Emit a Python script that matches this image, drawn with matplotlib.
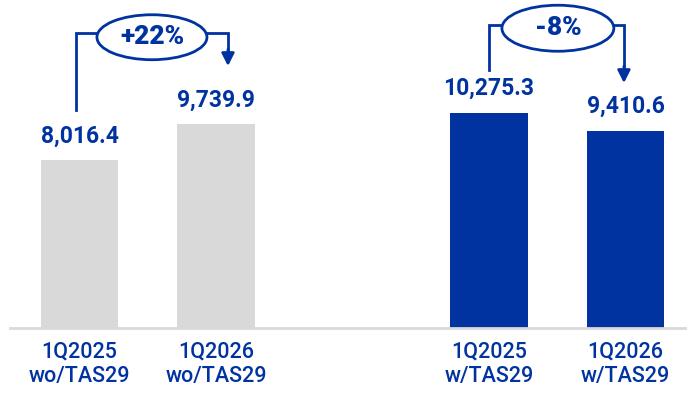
import matplotlib.pyplot as plt
from matplotlib.patches import Ellipse

categories = ["1Q2025\nwo/TAS29", "1Q2026\nwo/TAS29", "1Q2025\nw/TAS29", "1Q2026\nw/TAS29"]
values = [8016.4, 9739.9, 10275.3, 9410.6]
changes = ["+22%", "-8%"]

positions = [0, 1, 3, 4]
bar_colors = ["#D9D9D9", "#D9D9D9", "#0033A0", "#0033A0"]
blue = "#0033A0"

plt.rcParams['font.family'] = ['Roboto', 'DejaVu Sans']

fig = plt.figure(figsize=(6.87, 3.98), dpi=100)
ax = fig.add_axes([10 / 687, 70 / 398, 677 / 687, 328 / 398])

ax.bar(positions, values, width=0.565, color=bar_colors, zorder=2)

for x, v in zip(positions, values):
    ax.text(x, v + 620, f"{v:,.1f}", ha="center", va="bottom",
            fontsize=16.5, fontweight="bold", color=blue)

ax.set_xlim(-0.509, 4.451)
ax.set_ylim(0, 15680)

for s in ["top", "right", "left"]:
    ax.spines[s].set_visible(False)
ax.spines["bottom"].set_color("#D9D9D9")
ax.spines["bottom"].set_linewidth(2)
ax.set_yticks([])
ax.set_xticks(positions)
ax.set_xticklabels(categories, fontsize=15.5, color=blue, linespacing=1.2,
                   fontweight="medium")
ax.tick_params(axis="x", length=0, pad=10)


def bracket(x0, x1, y_start, y_top, y_tip, ex, ey, ew, eh, label):
    # left riser, top rail and arrow down to the second bar
    ax.plot([x0, x0, x1, x1], [y_start, y_top, y_top, y_tip + 600],
            color=blue, lw=2, solid_joinstyle="miter", zorder=3)
    ax.annotate("", xy=(x1, y_tip), xytext=(x1, y_tip + 800),
                arrowprops=dict(arrowstyle="-|>,head_length=0.75,head_width=0.38",
                                color=blue, lw=2, shrinkA=0, shrinkB=0),
                zorder=3)
    ax.add_patch(Ellipse((ex, ey), ew, eh, facecolor="white",
                         edgecolor=blue, lw=2, zorder=4))
    ax.text(ex, ey, label, ha="center", va="center", fontsize=19,
            fontweight="black", color=blue, zorder=5)


bracket(-0.026, 1.088, 10421, 14101, 12524, 0.531, 13900, 0.806, 2150, changes[0])
bracket(2.997, 3.989, 12333, 14484, 11711, 3.505, 14330, 0.82, 2200, changes[1])

fig.savefig("out.png", dpi=100)
